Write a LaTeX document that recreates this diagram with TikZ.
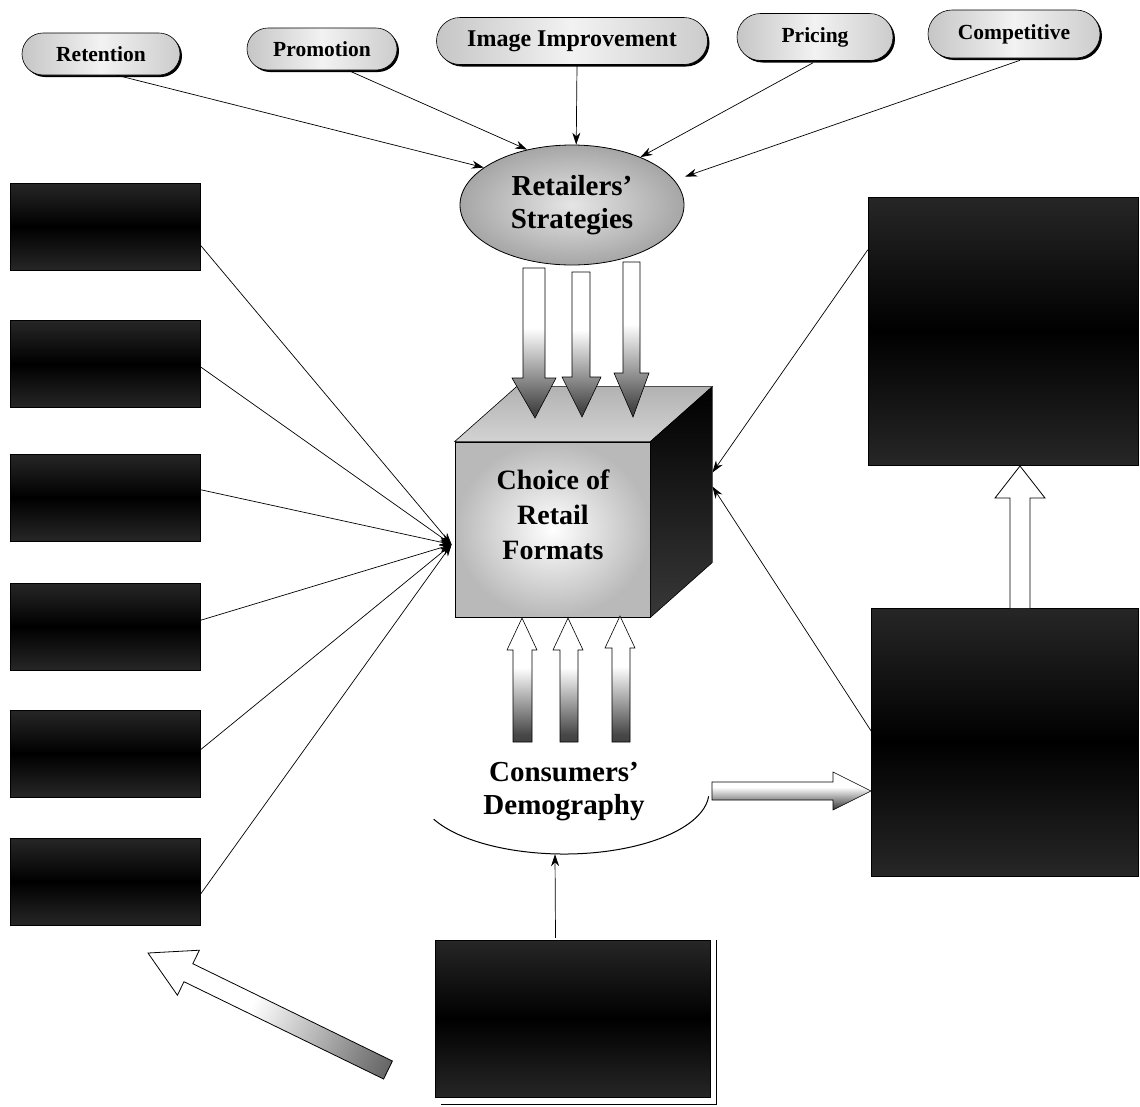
\documentclass[tikz,border=0pt]{standalone}
\usepackage{fontspec}
\setmainfont{Liberation Serif}
\usetikzlibrary{shapes.geometric,shapes.misc,arrows.meta,calc,shadows}
\pgfdeclareverticalshading{arrgrad}{100bp}{color(0bp)=(black!92); color(28bp)=(black!72); color(55bp)=(white); color(100bp)=(white)}
\pgfdeclarehorizontalshading{diaggrad}{100bp}{color(0bp)=(white); color(45bp)=(white); color(75bp)=(gray); color(100bp)=(black!88)}
\begin{document}
\begin{tikzpicture}[x=1pt,y=-1pt,
  pill/.style={rounded rectangle, draw=black, line width=0.6pt, left color=gray!45, right color=gray!40, middle color=white!90!gray,
     font=\bfseries\fontsize{21.5}{24}\selectfont, inner sep=0pt,
     drop shadow={shadow xshift=2pt, shadow yshift=-2pt, fill=black, opacity=1}},
  blackbox/.style={rectangle, draw=black, top color=black!85, bottom color=black!85, middle color=black, inner sep=0pt},
  conn/.style={draw=black, line width=0.7pt, -{Stealth[length=12pt,width=8pt]}},
  bigtxt/.style={font=\bfseries\fontsize{29}{33}\selectfont, align=center},
  blockarrow/.style={draw=black, line width=0.6pt, shading=arrgrad},
  hollowarrow/.style={draw=black, line width=0.8pt, fill=white},
]
\fill[white] (0,0) rectangle (1140,1106);
\useasboundingbox (0,0) rectangle (1140,1106);

% top strategy pills
\node[pill, minimum width=158, minimum height=42] (ret) at (101,54) {Retention};
\node[pill, minimum width=150, minimum height=42] (pro) at (322,49) {Promotion};
\node[pill, minimum width=271, minimum height=47, font=\bfseries\fontsize{24}{26}\selectfont] (img) at (572,41) {Image Improvement};
\node[pill, minimum width=156, minimum height=47] (pri) at (815,37) {Pricing};
\node[pill, minimum width=172, minimum height=48] (com) at (1014,34) {Competitive};

% retailers' strategies
\node[ellipse, draw=black, line width=0.8pt, inner color=gray!20, outer color=gray!70,
      minimum width=224, minimum height=120, inner sep=0pt, bigtxt] (rs) at (572,205) {Retailers'\\Strategies};

\draw[conn] ($(ret.south)+(16,0)$) -- (rs.157);
\draw[conn] ($(pro.south)+(26,0)$) -- (rs.129);
\draw[conn] ($(img.south)+(5,0)$) -- (rs.86);
\draw[conn] ($(pri.south)+(-2,2)$) -- (rs.35);
\draw[conn] ($(com.south)+(6,2)$) -- ($(rs.16)+(14,0)$);

% cube
\node[rectangle, draw=black, line width=0.8pt, inner color=white, outer color=gray!55,
      minimum width=195, minimum height=175, inner sep=0pt] (cf) at (552.5,529.5) {};
\shade[top color=gray!60, bottom color=gray!35, draw=black, line width=0.6pt]
   (cf.north west) -- ++(62,-55) -- ($(cf.north east)+(62,-55)$) -- (cf.north east) -- cycle;
\shade[top color=black, bottom color=black!78, draw=black, line width=0.6pt]
   (cf.north east) -- ++(62,-55) -- ($(cf.south east)+(62,-55)$) -- (cf.south east) -- cycle;
\node[bigtxt, font=\bfseries\fontsize{28}{35}\selectfont] (cft) at (553,515) {Choice of\\Retail\\Formats};
\coordinate (cfL) at ($(cf.west)+(-3,15)$);
\coordinate (cfR1) at ($(cf.east)+(62,-57)$);
\coordinate (cfR2) at ($(cf.east)+(62,-43)$);

% arrows from strategies down to cube
\shade[blockarrow] (523,268) -- (523,378) -- (512,378) -- (535,418) -- (556,378) -- (545,378) -- (545,268) -- cycle;
\shade[blockarrow] (572,272) -- (572,377) -- (562,377) -- (582,417) -- (601,377) -- (590,377) -- (590,272) -- cycle;
\shade[blockarrow] (623,262) -- (623,373) -- (614,373) -- (633,417) -- (649,373) -- (640,373) -- (640,262) -- cycle;

% left black boxes
\node[blackbox, minimum width=190, minimum height=87] (b1) at (105,226.5) {};
\node[blackbox, minimum width=190, minimum height=87] (b2) at (105,364) {};
\node[blackbox, minimum width=190, minimum height=87] (b3) at (105,497.5) {};
\node[blackbox, minimum width=190, minimum height=87] (b4) at (105,626.5) {};
\node[blackbox, minimum width=190, minimum height=87] (b5) at (105,753.5) {};
\node[blackbox, minimum width=190, minimum height=87] (b6) at (105,881.5) {};

\draw[conn] ($(b1.north east)!0.71!(b1.south east)$) -- (cfL);
\draw[conn] ($(b2.north east)!0.53!(b2.south east)$) -- (cfL);
\draw[conn] ($(b3.north east)!0.41!(b3.south east)$) -- (cfL);
\draw[conn] ($(b4.north east)!0.43!(b4.south east)$) -- (cfL);
\draw[conn] ($(b5.north east)!0.46!(b5.south east)$) -- (cfL);
\draw[conn] ($(b6.north east)!0.65!(b6.south east)$) -- (cfL);

% right black boxes
\node[blackbox, minimum width=270, minimum height=268] (rt) at (1003,331) {};
\node[blackbox, minimum width=267, minimum height=268] (rb) at (1004.5,742) {};
\draw[conn] ($(rt.north west)+(0,53)$) -- (cfR1);
\draw[conn] ($(rb.west)+(1,-10)$) -- (cfR2);
\draw[hollowarrow] (1010,608) -- (1010,498) -- (995,498) -- (1020,466) -- (1045,498) -- (1030,498) -- (1030,608);

% consumers' demography
\node[ellipse, minimum width=290, minimum height=124, inner sep=0pt, bigtxt] (cd) at (564,792) {Consumers'\\Demography};
\draw[line width=1pt] ($(cd.center)+(154:145 and 62)$) arc[start angle=154, end angle=4, x radius=145, y radius=62];

\shade[blockarrow] (513,742) -- (513,650) -- (507,650) -- (522,618) -- (537,650) -- (532,650) -- (532,742) -- cycle;
\shade[blockarrow] (560,742) -- (560,650) -- (553,650) -- (568,618) -- (583,650) -- (578,650) -- (578,742) -- cycle;
\shade[blockarrow] (612,742) -- (612,648) -- (605,648) -- (620,616) -- (635,648) -- (630,648) -- (630,742) -- cycle;

\shade[blockarrow] (712,782) -- (833,782) -- (833,772) -- (871,791) -- (833,810) -- (833,800) -- (712,800) -- cycle;

% bottom box
\node[blackbox, minimum width=275, minimum height=157] (bb) at (572.5,1018.5) {};
\draw[line width=0.8pt] ($(bb.north east)+(6,0)$) -- ($(bb.south east)+(6,7)$) -- ($(bb.south west)+(6,7)$);
\draw[conn] ($(bb.north)+(-17,-2)$) -- ($(cd.south)+(-9,0)$);

% diagonal hollow arrow (lower left)
\shade[draw=black, line width=0.8pt, shading=diaggrad, shading angle=-26]
  (392.4,1061.0) -- (192.8,963.7) -- (199.4,950.2) -- (148,953) -- (177.4,995.2) -- (184.0,981.7) -- (383.6,1079.0) -- cycle;
\end{tikzpicture}
\end{document}
